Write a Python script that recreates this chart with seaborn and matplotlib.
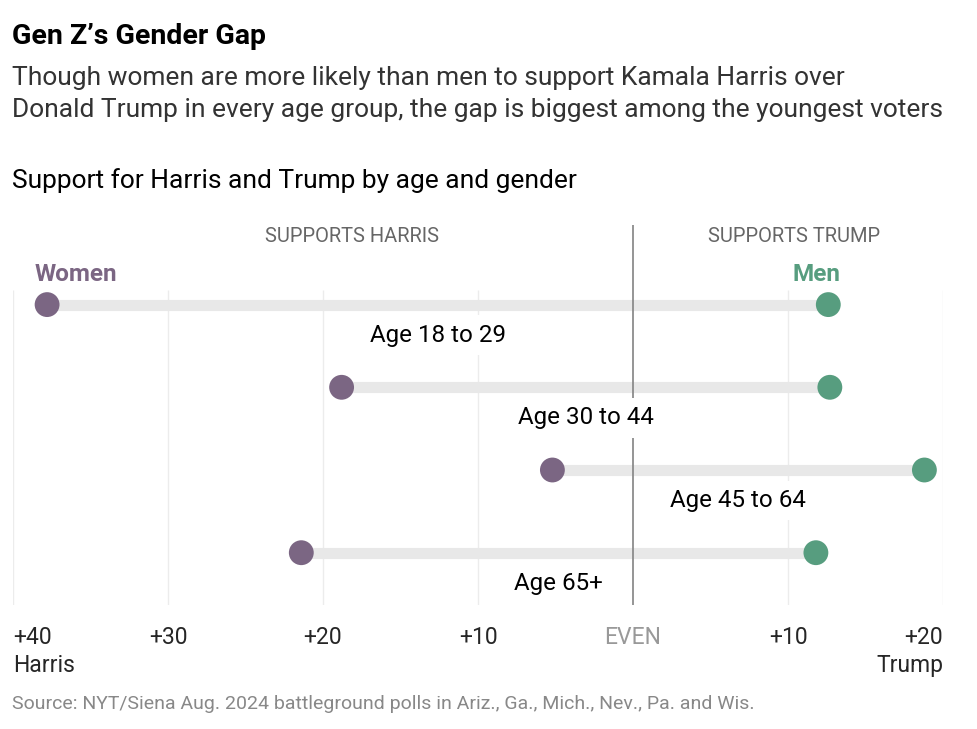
import pandas as pd
import seaborn as sns
import matplotlib.pyplot as plt

# --- Data (margin in points, negative = Harris, positive = Trump) ---
age_groups = ["Age 18 to 29", "Age 30 to 44", "Age 45 to 64", "Age 65+"]
women_margin = [-37.8, -18.8, -5.2, -21.4]
men_margin = [12.6, 12.7, 18.8, 11.8]

tick_values = [-40, -30, -20, -10, 0, 10, 20]
tick_labels = ["+40\nHarris", "+30", "+20", "+10", "EVEN", "+10", "+20\nTrump"]

WOMEN_COLOR = "#7b6683"
MEN_COLOR = "#579d7f"
BAR_COLOR = "#e8e8e8"
FONT = "Roboto"

W, H = 977, 729

sns.set_theme(style="white")
plt.rcParams['font.family'] = [FONT, 'DejaVu Sans']

fig = plt.figure(figsize=(W / 100, H / 100), dpi=100)
fig.patch.set_facecolor("white")


def fx(px):
    return px / W


def fy(py):
    return 1 - py / H


# axes: x from -40 (px 13) to +20 (px 943); y from px 225 to 605
ax = fig.add_axes([fx(13), fy(605), fx(930), (605 - 225) / H])
row_px = 82.7
y_top = (225 - 304.6) / row_px
y_bot = (605 - 304.6) / row_px
ax.set_xlim(-40, 20)
ax.set_ylim(y_bot, y_top)

df = pd.DataFrame({
    "age": age_groups * 2,
    "row": list(range(len(age_groups))) * 2,
    "margin": women_margin + men_margin,
    "gender": ["Women"] * len(age_groups) + ["Men"] * len(age_groups),
})

# light gridlines
grid_top = (290 - 304.6) / row_px
ax.vlines([t for t in tick_values if t != 0], grid_top, y_bot,
          color="#ececec", lw=1, zorder=0)

# bars connecting the two dots
rows = list(range(len(age_groups)))
ax.hlines(rows, women_margin, men_margin, color=BAR_COLOR, lw=8, zorder=1)

# centre line
ax.axvline(0, color="#8c8c8c", lw=1.3, zorder=2)

sns.scatterplot(data=df, x="margin", y="row", hue="gender",
                palette={"Women": WOMEN_COLOR, "Men": MEN_COLOR},
                s=320, linewidth=0, legend=False, zorder=3, ax=ax)

# age labels under each bar
for i, label in enumerate(age_groups):
    mid = (women_margin[i] + men_margin[i]) / 2
    ax.text(mid, i + 0.37, label, ha="center", va="center", fontsize=17.4,
            color="black", zorder=4,
            bbox=dict(facecolor="white", edgecolor="none", pad=6))

# Women / Men labels
ax.annotate("Women", (women_margin[0], 0), xytext=(-9, 22),
            textcoords="offset points", ha="left", va="center",
            fontsize=17.5, fontweight="bold", color=WOMEN_COLOR)
ax.annotate("Men", (men_margin[0], 0), xytext=(9, 22),
            textcoords="offset points", ha="right", va="center",
            fontsize=17.5, fontweight="bold", color=MEN_COLOR)

# side headers
ax.text(-18.1, (237 - 304.6) / row_px, "SUPPORTS HARRIS", ha="center",
        va="center", fontsize=14.5, color="#666666")
ax.text(10.4, (237 - 304.6) / row_px, "SUPPORTS TRUMP", ha="center",
        va="center", fontsize=14.5, color="#666666")

# ticks
ax.set_xticks(tick_values)
ax.set_xticklabels(tick_labels, fontsize=16.5, linespacing=1.3)
ax.set_yticks([])
ax.tick_params(axis="x", length=0, pad=15)
labels = ax.get_xticklabels()
for lab in labels:
    lab.set_va("top")
labels[0].set_ha("left")
labels[0].set_multialignment("left")
labels[-1].set_ha("right")
labels[-1].set_multialignment("right")
labels[4].set_color("#999999")
ax.set_xlabel("")
ax.set_ylabel("")
for sp in ax.spines.values():
    sp.set_visible(False)

# titles
fig.text(fx(12), fy(36), "Gen Z’s Gender Gap", ha="left", va="center",
         fontsize=20.5, fontweight="bold", color="black")
fig.text(fx(12), fy(78), "Though women are more likely than men to support Kamala Harris over",
         ha="left", va="center", fontsize=19, color="#333333")
fig.text(fx(12), fy(110), "Donald Trump in every age group, the gap is biggest among the youngest voters",
         ha="left", va="center", fontsize=19, color="#333333")
fig.text(fx(12), fy(181), "Support for Harris and Trump by age and gender",
         ha="left", va="center", fontsize=19, color="black")
fig.text(fx(12), fy(704), "Source: NYT/Siena Aug. 2024 battleground polls in Ariz., Ga., Mich., Nev., Pa. and Wis.",
         ha="left", va="center", fontsize=14, color="#888888")

fig.savefig("out.png", dpi=100, facecolor="white")
